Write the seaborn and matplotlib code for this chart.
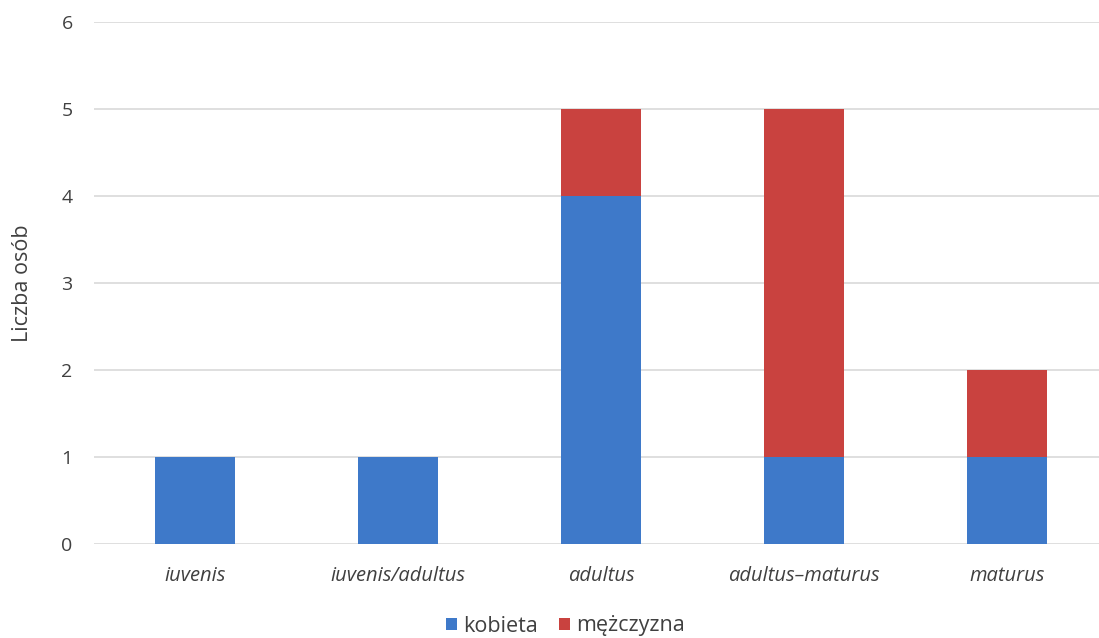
import pandas as pd
import matplotlib.pyplot as plt
import seaborn as sns

# dane
categories = ["iuvenis", "iuvenis/adultus", "adultus", "adultus\u2013maturus", "maturus"]
kobieta = [1, 1, 4, 1, 1]
mezczyzna = [0, 0, 1, 4, 1]

BLUE = "#3e79c9"
RED = "#c9423f"

df = pd.DataFrame({"grupa": categories, "kobieta": kobieta, "mezczyzna": mezczyzna})
df["razem"] = df["kobieta"] + df["mezczyzna"]

sns.set_style("white")
plt.rcParams["font.family"] = ["Open Sans", "DejaVu Sans"]

fig = plt.figure(figsize=(10.99, 6.38), dpi=100)
ax = fig.add_axes([93.5 / 1099, 94 / 638, 1015 / 1099, 522 / 638])

# stacked: total (red) underneath, blue on top covers lower part
sns.barplot(data=df, x="grupa", y="razem", color=RED, width=0.395,
            saturation=1, ax=ax, label="m\u0119\u017cczyzna", zorder=3,
            linewidth=0)
sns.barplot(data=df, x="grupa", y="kobieta", color=BLUE, width=0.395,
            saturation=1, ax=ax, label="kobieta", zorder=3, linewidth=0)

ax.set_ylim(0, 6)
ax.set_yticks(range(0, 7))
ax.yaxis.grid(True, color="#d9d9d9", linewidth=1.2, zorder=0)
ax.set_axisbelow(True)
for s in ax.spines.values():
    s.set_visible(False)

ax.tick_params(axis="y", labelsize=14, colors="#404040", length=0, pad=15)
ax.tick_params(axis="x", labelsize=14.5, colors="#404040", length=0, pad=16)
for lbl in ax.get_xticklabels():
    lbl.set_fontstyle("italic")

ax.set_xlabel("")
ax.set_ylabel("Liczba os\u00f3b", fontsize=15.5, color="#404040")
ax.yaxis.set_label_coords(-0.06, 0.5)

h, l = ax.get_legend_handles_labels()
order = [l.index("kobieta"), l.index("m\u0119\u017cczyzna")]
ax.legend([h[i] for i in order], [l[i] for i in order], loc="center",
          bbox_to_anchor=(472 / 1015, -82 / 522), ncol=2, frameon=False,
          fontsize=15.5, handlelength=0.5, handleheight=0.5, handletextpad=0.3,
          columnspacing=1.0, labelcolor="#404040")

fig.savefig("out.png", dpi=100)
